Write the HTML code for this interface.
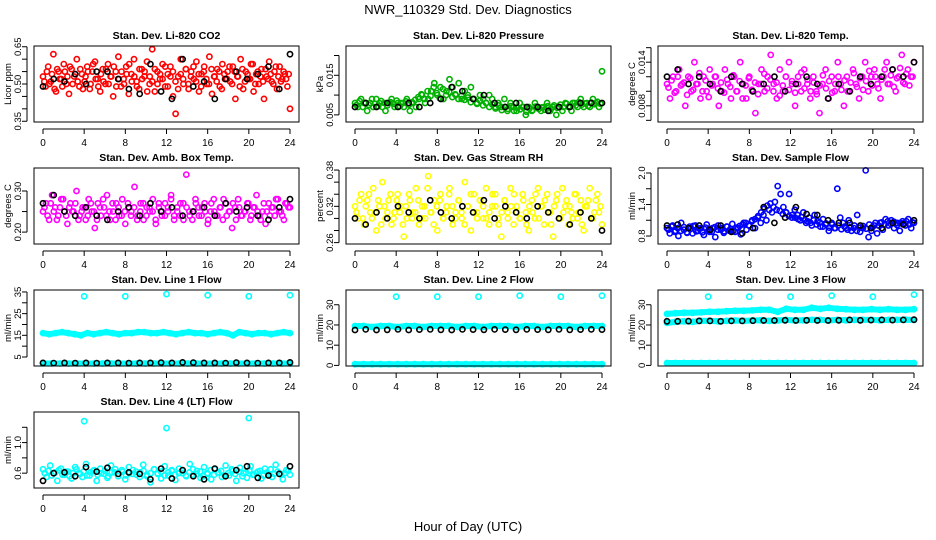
<!DOCTYPE html>
<html><head><meta charset="utf-8"><style>
body{margin:0;background:#fff}
svg{display:block;font-family:"Liberation Sans",Arial,sans-serif}
</style></head><body>
<svg id="c" width="936" height="540" xmlns="http://www.w3.org/2000/svg">
<text x="468" y="14" text-anchor="middle" font-size="13">NWR_110329  Std. Dev. Diagnostics</text>
<text x="468" y="531" text-anchor="middle" font-size="13">Hour of Day (UTC)</text>
</svg>
<script>
// ---- data ----
const hourTicks=[0,4,8,12,16,20,24];
const co2Vals=[0.53,0.49,0.57,0.51,0.62,0.47,0.55,0.52,0.58,0.50,0.46,0.56,0.53,0.60,0.49,0.54,0.51,0.57,0.48,0.55,0.59,0.52,0.47,0.56,0.50,0.58,0.53,0.45,0.55,0.61,0.49,0.52,0.57,0.46,0.54,0.60,0.51,0.48,0.56,0.53,0.59,0.50,0.64,0.47,0.55,0.52,0.58,0.49,0.54,0.57,0.45,0.38,0.53,0.60,0.50,0.56,0.48,0.55,0.52,0.59,0.47,0.54,0.57,0.50,0.61,0.46,0.53,0.56,0.49,0.58,0.52,0.55,0.51,0.57,0.44,0.53,0.60,0.48,0.55,0.52,0.58,0.47,0.54,0.50,0.56,0.44,0.53,0.59,0.51,0.55,0.48,0.57,0.52,0.54,0.49,0.40];
const co2Vals2=[0.51,0.55,0.50,0.54,0.48,0.56,0.52,0.49,0.55,0.53,0.57,0.50,0.54,0.51,0.56,0.48,0.53,0.55,0.50,0.58,0.52,0.49,0.54,0.51,0.56,0.50,0.53,0.57,0.49,0.52,0.55,0.50,0.54,0.58,0.51,0.53,0.49,0.56,0.52,0.55,0.47,0.53,0.51,0.56,0.50,0.54,0.52,0.57,0.49,0.53,0.55,0.51,0.48,0.54,0.52,0.56,0.50,0.53,0.57,0.51,0.54,0.49,0.55,0.52,0.50,0.56,0.53,0.51,0.55,0.48,0.54,0.52,0.57,0.50,0.55,0.53,0.49,0.56,0.51,0.54,0.52,0.58,0.50,0.55,0.53,0.51,0.56,0.52,0.54,0.50,0.57,0.53,0.51,0.55,0.52,0.54];
const co2Black=[0.49,0.52,0.51,0.54,0.50,0.55,0.55,0.52,0.48,0.46,0.58,0.47,0.44,0.60,0.49,0.51,0.44,0.52,0.55,0.52,0.54,0.57,0.48,0.62];
const presVals=[0.008,0.007,0.009,0.008,0.006,0.008,0.007,0.009,0.008,0.007,0.006,0.008,0.009,0.007,0.008,0.008,0.007,0.009,0.006,0.008,0.007,0.009,0.010,0.008,0.009,0.011,0.013,0.010,0.012,0.009,0.011,0.014,0.012,0.010,0.013,0.009,0.011,0.010,0.012,0.009,0.008,0.010,0.009,0.008,0.010,0.009,0.007,0.008,0.007,0.009,0.006,0.008,0.007,0.006,0.008,0.007,0.005,0.007,0.006,0.008,0.007,0.006,0.007,0.008,0.006,0.007,0.005,0.007,0.006,0.008,0.007,0.006,0.008,0.007,0.009,0.007,0.008,0.007,0.009,0.008,0.007,0.016];
const presVals2=[0.0075,0.0085,0.0070,0.0080,0.0075,0.0090,0.0078,0.0072,0.0085,0.0080,0.0074,0.0082,0.0078,0.0086,0.0072,0.0080,0.0084,0.0076,0.0082,0.0088,0.0095,0.0102,0.0090,0.0110,0.0098,0.0120,0.0105,0.0092,0.0115,0.0100,0.0108,0.0095,0.0102,0.0090,0.0098,0.0088,0.0094,0.0082,0.0090,0.0078,0.0086,0.0074,0.0080,0.0070,0.0076,0.0066,0.0074,0.0062,0.0070,0.0065,0.0072,0.0060,0.0068,0.0064,0.0070,0.0058,0.0066,0.0062,0.0071,0.0065,0.0069,0.0063,0.0072,0.0066,0.0074,0.0068,0.0076,0.0070,0.0078,0.0072,0.0080,0.0074,0.0082,0.0076,0.0079,0.0073,0.0081,0.0077,0.0083,0.0078];
const presBlack=[0.007,0.008,0.007,0.008,0.007,0.008,0.007,0.008,0.009,0.012,0.011,0.009,0.010,0.008,0.007,0.008,0.007,0.007,0.006,0.007,0.007,0.008,0.008,0.008];
const tempVals=[0.011,0.009,0.012,0.010,0.013,0.011,0.008,0.012,0.010,0.014,0.011,0.009,0.012,0.010,0.013,0.011,0.012,0.008,0.010,0.013,0.011,0.009,0.012,0.010,0.014,0.011,0.009,0.012,0.010,0.007,0.011,0.013,0.010,0.012,0.015,0.011,0.009,0.013,0.010,0.012,0.014,0.011,0.008,0.012,0.010,0.013,0.011,0.009,0.012,0.010,0.007,0.011,0.013,0.009,0.012,0.010,0.014,0.011,0.008,0.012,0.010,0.013,0.011,0.009,0.012,0.014,0.010,0.012,0.013,0.011,0.009,0.012,0.014,0.011,0.013,0.010,0.012,0.015,0.011,0.013,0.012,0.014];
const tempVals2=[0.0105,0.0115,0.0098,0.0120,0.0108,0.0112,0.0095,0.0118,0.0102,0.0110,0.0125,0.0100,0.0115,0.0092,0.0108,0.0120,0.0104,0.0112,0.0098,0.0116,0.0106,0.0122,0.0100,0.0114,0.0090,0.0108,0.0118,0.0102,0.0112,0.0096,0.0110,0.0124,0.0104,0.0116,0.0100,0.0112,0.0094,0.0108,0.0120,0.0102,0.0114,0.0098,0.0110,0.0126,0.0104,0.0116,0.0100,0.0112,0.0096,0.0108,0.0122,0.0104,0.0114,0.0098,0.0110,0.0120,0.0102,0.0115,0.0100,0.0112,0.0125,0.0106,0.0118,0.0102,0.0114,0.0128,0.0108,0.0120,0.0104,0.0116,0.0130,0.0110,0.0122,0.0106,0.0118,0.0132,0.0112,0.0124,0.0108,0.0120];
const tempBlack=[0.012,0.013,0.011,0.012,0.011,0.010,0.012,0.011,0.010,0.011,0.012,0.010,0.011,0.012,0.011,0.009,0.011,0.010,0.012,0.011,0.012,0.013,0.012,0.014];
const ambVals=[0.25,0.27,0.23,0.29,0.26,0.24,0.28,0.25,0.22,0.27,0.25,0.30,0.24,0.26,0.23,0.28,0.25,0.21,0.27,0.24,0.26,0.29,0.23,0.25,0.27,0.24,0.28,0.22,0.26,0.25,0.31,0.24,0.27,0.23,0.26,0.25,0.28,0.22,0.26,0.24,0.27,0.25,0.29,0.23,0.26,0.24,0.27,0.34,0.25,0.23,0.28,0.26,0.24,0.27,0.22,0.25,0.28,0.24,0.26,0.23,0.27,0.25,0.21,0.26,0.28,0.24,0.25,0.27,0.23,0.26,0.29,0.24,0.25,0.22,0.27,0.26,0.24,0.28,0.25,0.23,0.27,0.26];
const ambVals2=[0.26,0.24,0.27,0.25,0.23,0.26,0.28,0.24,0.26,0.25,0.27,0.23,0.25,0.26,0.24,0.27,0.25,0.23,0.26,0.28,0.24,0.25,0.27,0.23,0.26,0.24,0.25,0.27,0.24,0.26,0.23,0.25,0.27,0.24,0.26,0.25,0.23,0.27,0.25,0.24,0.26,0.28,0.24,0.25,0.27,0.23,0.26,0.24,0.25,0.27,0.24,0.26,0.25,0.23,0.27,0.25,0.24,0.26,0.28,0.24,0.25,0.27,0.23,0.26,0.24,0.25,0.27,0.24,0.26,0.25,0.23,0.27,0.25,0.24,0.26,0.28,0.25,0.24,0.27,0.26];
const ambBlack=[0.27,0.29,0.25,0.24,0.26,0.24,0.23,0.25,0.26,0.24,0.27,0.25,0.26,0.24,0.25,0.26,0.24,0.27,0.25,0.26,0.24,0.23,0.26,0.28];
const rhVals=[0.32,0.30,0.34,0.29,0.33,0.31,0.35,0.28,0.32,0.36,0.30,0.33,0.29,0.31,0.34,0.32,0.27,0.30,0.33,0.31,0.35,0.29,0.32,0.30,0.37,0.31,0.33,0.28,0.34,0.30,0.32,0.35,0.29,0.31,0.33,0.30,0.36,0.32,0.28,0.34,0.31,0.33,0.30,0.35,0.29,0.32,0.34,0.30,0.27,0.33,0.31,0.35,0.29,0.32,0.30,0.34,0.31,0.28,0.33,0.30,0.35,0.32,0.29,0.34,0.31,0.27,0.33,0.30,0.35,0.32,0.29,0.31,0.34,0.30,0.33,0.28,0.32,0.35,0.30,0.33,0.31,0.29];
const rhVals2=[0.31,0.33,0.30,0.32,0.34,0.30,0.31,0.33,0.29,0.32,0.31,0.34,0.30,0.33,0.31,0.29,0.32,0.34,0.30,0.31,0.33,0.30,0.32,0.35,0.31,0.29,0.32,0.33,0.30,0.31,0.34,0.32,0.30,0.33,0.31,0.29,0.32,0.34,0.31,0.30,0.33,0.32,0.30,0.31,0.34,0.32,0.29,0.31,0.33,0.30,0.32,0.34,0.31,0.30,0.33,0.29,0.32,0.31,0.34,0.30,0.32,0.33,0.31,0.29,0.32,0.34,0.30,0.31,0.33,0.32,0.30,0.34,0.31,0.29,0.32,0.33,0.30,0.31,0.34,0.32];
const rhBlack=[0.30,0.29,0.31,0.30,0.32,0.31,0.30,0.33,0.31,0.30,0.32,0.31,0.33,0.30,0.32,0.31,0.30,0.32,0.31,0.30,0.29,0.31,0.30,0.28];
const flowVals=[0.95,0.85,1.00,0.90,0.80,1.05,0.92,0.87,0.98,0.85,1.00,0.90,0.95,0.82,1.02,0.88,0.95,0.78,1.00,0.92,0.86,0.98,0.90,1.03,0.88,0.95,0.83,1.05,0.92,1.00,1.10,0.95,1.15,1.05,1.20,1.10,1.30,1.25,1.45,1.75,1.60,1.35,1.25,1.60,1.15,1.30,1.20,1.10,1.25,1.05,1.15,1.00,1.20,1.08,0.98,1.12,1.02,0.90,1.05,0.95,1.70,1.15,1.05,0.95,1.10,0.90,1.00,1.20,0.88,0.95,2.05,0.78,0.90,1.00,0.85,1.05,0.92,1.12,1.00,1.10,0.95,1.05,0.90,1.08,1.00,1.12,0.95,1.05];
const flowVals2=[0.92,0.98,0.88,0.95,0.90,0.97,0.86,0.93,0.99,0.89,0.94,0.87,0.96,0.91,0.88,0.97,0.92,0.95,0.89,0.98,0.93,0.90,0.96,0.99,1.02,1.05,1.00,1.08,1.12,1.18,1.25,1.32,1.38,1.42,1.35,1.30,1.28,1.22,1.25,1.18,1.20,1.15,1.12,1.16,1.10,1.08,1.05,1.10,1.02,1.06,0.98,1.04,0.96,1.02,0.95,1.00,0.93,0.98,0.92,0.97,0.95,0.90,0.96,0.99,0.94,1.02,0.97,1.05,1.00,1.06,1.02,1.08,1.03,1.07,1.01,1.05,1.04,1.08,1.02,1.06];
const flowBlack=[1.00,1.02,0.95,1.00,0.92,1.00,0.88,0.85,0.95,1.35,1.05,1.15,1.35,1.22,1.20,1.10,1.05,1.05,1.00,0.95,0.95,1.05,1.02,1.10];
const l1Band=[16,15.5,16,16.5,16,15.5,15,16,15.5,16,16.5,16,15.5,16,16,16.5,16.5,16,16,16.5,16,15.5,16,16.5,16,16,15.5,16,16.5,16,15,16.5,16,15.5,16,16,15.5,16,16.5,16];
const l1Low=[2,2,2,2,2,2,2,2,2,2,2,2,2,2,2,2,2,2,2,2,2,2,2,2,2,2,2,2,2,2];
const l1Black=[2.3,2.2,2.3,2.2,2.3,2.2,2.3,2.3,2.2,2.3,2.3,2.4,2.3,2.5,2.4,2.3,2.3,2.2,2.4,2.3,2.2,2.3,2.3,2.5];
const l1Out=[33,33,34,33.5,33,33.5];
const l2Band=[19.5,19.5,19,19.5,19.5,19,19.5,19.5,19,19.5,19.5,19.5,19,19.5,19.5,19,19.5,19.5,19.5,19,19.5,19.5,19,19.5,19.5,19.5,19,19.5,19.5,19.5];
const l2Low=[0.6,0.6,0.6,0.6,0.6,0.6,0.6,0.6,0.6,0.6,0.6,0.6,0.6,0.6,0.6,0.6,0.6,0.6,0.6,0.6,0.6,0.6,0.6,0.6,0.6,0.6,0.6,0.6,0.6,0.6];
const l2Black=[17.5,17.8,17.5,17.6,17.8,17.5,17.7,17.8,17.6,17.5,17.8,17.7,17.6,17.8,17.7,17.6,17.8,17.7,17.6,17.8,17.6,17.7,17.8,17.7];
const l2Out=[34,34,34,34.5,34,34.5];
const l3Upper=[25.5,25.8,26,26,26.2,26.5,26.5,26.8,27,27,27.2,27.5,27.5,26.5,28,27.5,27.5,28.5,28,28.5,28,27.8,27.5,27.5,27.8,27.5,27.8,27.5,27.5,27.8];
const l3Mid=[21,21.5,21.8,21.5,22,22,21.8,22,22.2,22,22.2,22.3,22,22.2,22.5,22.2,22.3,22.5,22.5,22.2,22.5,22.3,22.5,22.5,22.5,22.3,22.5,22.5,22.6,22.5];
const l3Low=[1.2,1.2,1.2,1.2,1.2,1.2,1.2,1.2,1.2,1.2,1.2,1.2,1.2,1.2,1.2,1.2,1.2,1.2,1.2,1.2,1.2,1.2,1.2,1.2,1.2,1.2,1.2,1.2,1.2,1.2];
const l3Black=[21.8,21.8,21.9,22,22,21.8,22,22,22.1,22.2,22.2,22.3,22.2,22.3,22.2,22.2,22.3,22.5,22.3,22.4,22.5,22.4,22.5,22.6];
const l3Out=[34,34,34,34.5,34,35];
const l4Vals=[0.65,0.55,0.70,0.60,0.50,0.66,0.58,0.62,0.53,0.68,0.60,0.55,0.72,0.57,0.63,0.50,0.66,0.59,0.54,0.70,0.61,0.56,0.64,0.52,0.68,0.59,0.62,0.55,0.71,0.58,0.48,0.65,0.60,0.53,0.69,0.57,0.63,0.51,0.66,0.60,0.56,0.72,0.58,0.63,0.54,0.68,0.59,0.52,0.65,0.61,0.55,0.70,0.57,0.63,0.50,0.67,0.60,0.54,0.69,0.58,0.62,0.53,0.66,0.59,0.55,0.71,0.60,0.52,0.64,0.58];
const l4Vals2=[0.60,0.63,0.57,0.61,0.64,0.58,0.62,0.56,0.60,0.65,0.59,0.62,0.57,0.61,0.64,0.58,0.60,0.63,0.56,0.61,0.65,0.59,0.62,0.57,0.60,0.64,0.58,0.61,0.63,0.56,0.60,0.65,0.59,0.62,0.57,0.61,0.64,0.58,0.60,0.63,0.57,0.61,0.65,0.59,0.62,0.56,0.60,0.64,0.58,0.61,0.63,0.57,0.60,0.65,0.59,0.62,0.56,0.61,0.64,0.58,0.60,0.63,0.57,0.61,0.65,0.59,0.62,0.58,0.60,0.63];
const l4Black=[0.50,0.60,0.61,0.56,0.68,0.62,0.67,0.59,0.61,0.59,0.52,0.66,0.53,0.64,0.56,0.52,0.66,0.56,0.64,0.69,0.54,0.57,0.59,0.69];
const l4Out=[1.28,1.19,1.32];
const outHours=[4,8,12,16,20,24];
const outHours4=[4,12,20];

// ---- layout ----
const colX=[34,346,658], rowY=[46,168,290,412], BW=265, BH=76;
const NS="http://www.w3.org/2000/svg";
const svg=document.getElementById('c');
function mk(tag,attrs,parent){const e=document.createElementNS(NS,tag);for(const k in attrs)e.setAttribute(k,attrs[k]);(parent||svg).appendChild(e);return e;}
const seq=(v)=>v.map((_,i)=>i*24/(v.length-1));
const seqOff=(v)=>v.map((_,i)=>(i+0.5)*24/v.length);

const panels=[
 {id:'co2',title:'Stan. Dev. Li-820 CO2',yl:'Licor ppm',c:0,r:0,lim:[0.347,0.653],ticks:[0.35,0.40,0.45,0.50,0.55,0.60,0.65],labs:['0.35','','','0.50','','','0.65'],
  series:[{v:co2Vals,col:'#ff0000'},{v:co2Vals2,col:'#ff0000',off:1},{v:co2Black,col:'#000'}]},
 {id:'pressure',title:'Stan. Dev. Li-820 Pressure',yl:'kPa',c:1,r:0,lim:[0.0032,0.0224],ticks:[0.005,0.010,0.015,0.020],labs:['0.005','','0.015',''],
  series:[{v:presVals,col:'#00b000'},{v:presVals2,col:'#00b000',off:1},{v:presBlack,col:'#000'}]},
 {id:'temp',title:'Stan. Dev. Li-820 Temp.',yl:'degrees C',c:2,r:0,lim:[0.00577,0.01623],ticks:[0.006,0.008,0.010,0.012,0.014,0.016],labs:['','0.008','','','0.014',''],
  series:[{v:tempVals,col:'#ff00ff'},{v:tempVals2,col:'#ff00ff',off:1},{v:tempBlack,col:'#000'}]},
 {id:'amb',title:'Stan. Dev. Amb. Box Temp.',yl:'degrees C',c:0,r:1,lim:[0.171,0.356],ticks:[0.20,0.25,0.30],labs:['0.20','','0.30'],
  series:[{v:ambVals,col:'#ff00ff'},{v:ambVals2,col:'#ff00ff',off:1},{v:ambBlack,col:'#000'}]},
 {id:'rh',title:'Stan. Dev. Gas Stream RH',yl:'percent',c:1,r:1,lim:[0.2577,0.3834],ticks:[0.26,0.28,0.30,0.32,0.34,0.36,0.38],labs:['0.26','','','0.32','','','0.38'],
  series:[{v:rhVals,col:'#ffff00'},{v:rhVals2,col:'#ffff00',off:1},{v:rhBlack,col:'#000'}]},
 {id:'sample',title:'Stan. Dev. Sample Flow',yl:'ml/min',c:2,r:1,lim:[0.648,2.095],ticks:[0.8,1.1,1.4,1.7,2.0],labs:['0.8','','1.4','','2.0'],
  series:[{v:flowVals,col:'#0000ff'},{v:flowVals2,col:'#0000ff',off:1},{v:flowBlack,col:'#000'}]},
 {id:'line1',title:'Stan. Dev. Line 1 Flow',yl:'ml/min',c:0,r:2,lim:[0.85,35.9],ticks:[5,10,15,20,25,30,35],labs:['5','','15','','25','','35'],
  series:[{v:l1Band,col:'#00ffff',band:1},{v:l1Low,col:'#00ffff',band:1},{v:l1Black,col:'#000'},{v:l1Out,col:'#00ffff',h:outHours}]},
 {id:'line2',title:'Stan. Dev. Line 2 Flow',yl:'ml/min',c:1,r:2,lim:[-0.3,37.3],ticks:[0,10,20,30],labs:['0','10','20','30'],
  series:[{v:l2Band,col:'#00ffff',band:1},{v:l2Low,col:'#00ffff',band:1},{v:l2Black,col:'#000'},{v:l2Out,col:'#00ffff',h:outHours}]},
 {id:'line3',title:'Stan. Dev. Line 3 Flow',yl:'ml/min',c:2,r:2,lim:[-0.3,37.3],ticks:[0,10,20,30],labs:['0','10','20','30'],
  series:[{v:l3Upper,col:'#00ffff',band:1},{v:l3Mid,col:'#00ffff',band:1},{v:l3Low,col:'#00ffff',band:1},{v:l3Black,col:'#000'},{v:l3Out,col:'#00ffff',h:outHours}]},
 {id:'line4',title:'Stan. Dev. Line 4 (LT) Flow',yl:'ml/min',c:0,r:3,lim:[0.406,1.4],ticks:[0.6,0.8,1.0,1.2],labs:['0.6','','1.0',''],
  series:[{v:l4Vals,col:'#00ffff'},{v:l4Vals2,col:'#00ffff',off:1},{v:l4Black,col:'#000'},{v:l4Out,col:'#00ffff',h:outHours4}]}
];

panels.forEach(p=>{
  const bx=colX[p.c], by=rowY[p.r];
  const g=mk('g',{});
  
  
  const xs=h=>bx+9+h*(BW-18)/24;
  const ys=v=>by+BH-(v-p.lim[0])/(p.lim[1]-p.lim[0])*BH;
  const t=mk('text',{x:bx+BW/2,y:by-7,'text-anchor':'middle','font-size':'10.5','font-weight':'bold'},g);
  t.textContent=p.title;
  
  
  const yt=mk('text',{x:0,y:0,'text-anchor':'middle','font-size':'9.5',transform:`translate(${bx-23},${by+BH/2}) rotate(-90)`},g);
  yt.textContent=p.yl;
  
  
  // x axis
  const xa=mk('g',{},g);
  
  
  mk('line',{x1:xs(0),x2:xs(24),y1:by+BH+7,y2:by+BH+7,stroke:'#000'},xa);
  hourTicks.forEach(h=>{
    mk('line',{x1:xs(h),x2:xs(h),y1:by+BH+7,y2:by+BH+12,stroke:'#000'},xa);
    const l=mk('text',{x:xs(h),y:by+BH+24,'text-anchor':'middle','font-size':'10'},xa);l.textContent=h;
  });
  // y axis
  const ya=mk('g',{},g);
  
  
  const tv=p.ticks.filter(v=>v>=p.lim[0]&&v<=p.lim[1]);
  mk('line',{x1:bx-7,x2:bx-7,y1:ys(tv[0]),y2:ys(tv[tv.length-1]),stroke:'#000'},ya);
  p.ticks.forEach((v,i)=>{
    if(v<p.lim[0]||v>p.lim[1])return;
    mk('line',{x1:bx-12,x2:bx-7,y1:ys(v),y2:ys(v),stroke:'#000'},ya);
    if(p.labs[i]){const l=mk('text',{x:0,y:0,'text-anchor':'middle','font-size':'9.5',transform:`translate(${bx-13},${ys(v)}) rotate(-90)`},ya);l.textContent=p.labs[i];}
  });
  // points
  p.series.forEach((s,si)=>{
    const sg=mk('g',{fill:'none',stroke:s.col,'stroke-width':1.6},g);
    
    
    const hs=s.h||(s.off?seqOff(s.v):seq(s.v));
    if(s.band){
      const d=s.v.map((v,i)=>(i?'L':'M')+xs(hs[i]).toFixed(1)+','+ys(v).toFixed(1)).join('');
      const pl=mk('path',{d:d,'stroke-width':6,'stroke-linejoin':'round','stroke-linecap':'round'},sg);
      
      
    }
    s.v.forEach((v,i)=>{
      const c=mk('circle',{cx:xs(hs[i]).toFixed(1),cy:ys(v).toFixed(1),r:2.6},sg);
      
      
    });
  });
  const box=mk('rect',{x:bx,y:by,width:BW,height:BH,fill:'none',stroke:'#000'},g);
  
  
});
</script>
</body></html>
